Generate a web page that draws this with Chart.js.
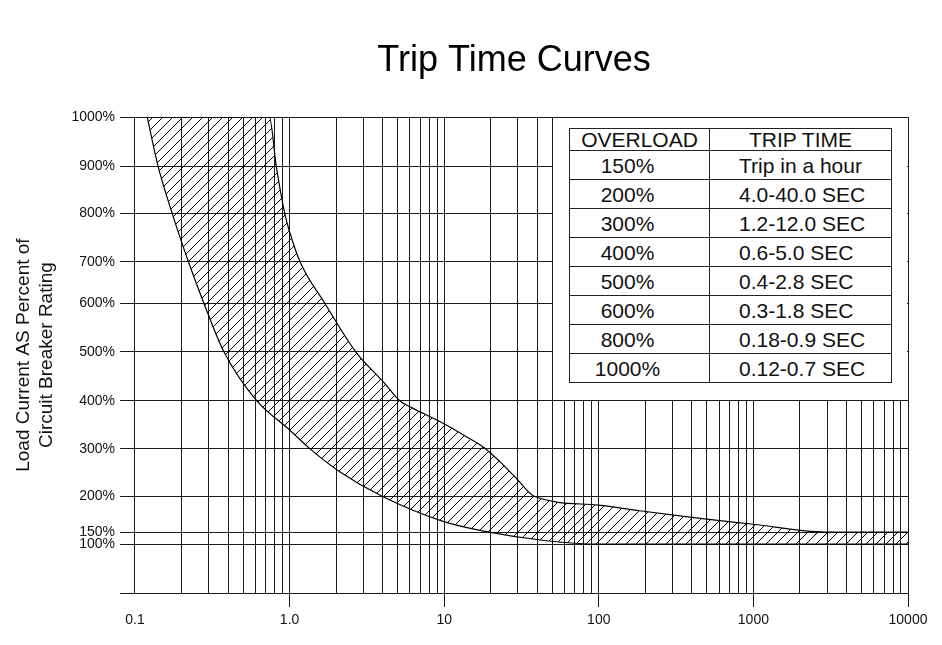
<!DOCTYPE html>
<html>
<head>
<meta charset="utf-8">
<title>Trip Time Curves</title>
<script src="https://cdn.jsdelivr.net/npm/chart.js@4.4.1/dist/chart.umd.min.js"></script>
<style>
    html, body { margin: 0; padding: 0; background: #fff; }
    #wrap { position: relative; width: 942px; height: 645px; font-family: "Liberation Sans", Arial, sans-serif; }
    #chart { position: absolute; left: 0; top: 0; }
    #tableBox { position: absolute; left: 553px; top: 118px; width: 354px; height: 282px; background: #fff; }
    #tripTable {
        position: absolute; left: 16px; top: 10px; width: 322px; height: 255px;
        border-collapse: collapse; table-layout: fixed; font-size: 21px; color: #111;
    }
    #tripTable th, #tripTable td { border: 1px solid #222; padding: 0; line-height: 1; font-weight: normal; white-space: nowrap; }
    #tripTable th { text-align: center; }
    #tripTable td.load { text-align: center; padding-right: 24px; }
    #tripTable td.time { text-align: left; padding-left: 29px; }
</style>
</head>
<body>
<div id="wrap">
    <canvas id="chart" width="942" height="645"></canvas>
    <div id="tableBox">
        <table id="tripTable">
            <colgroup><col style="width:140px"><col style="width:182px"></colgroup>
            <thead><tr><th>OVERLOAD</th><th>TRIP TIME</th></tr></thead>
            <tbody id="tripRows"></tbody>
        </table>
    </div>
</div>
<script>
// ---- data ----
const chartTitle = "Trip Time Curves";
const yAxisTitle = ["Load Current AS Percent of", "Circuit Breaker Rating"];

// lower (fastest) trip curve: time in seconds / load in %
const lowerTime = [0.12, 0.141, 0.174, 0.222, 0.279, 0.376, 0.612, 1.0, 1.35, 2.11, 4.0, 9.84, 18.3, 45.8, 100, 10000];
const lowerLoad = [1000, 900, 800, 700, 600, 500, 400, 339, 300, 252, 200, 165, 151, 114, 100, 100];

// upper (slowest) trip curve, top edge of the band runs along 1000%
const upperTime = [0.12, 0.74, 0.82, 0.93, 1.0, 1.17, 1.69, 2.68, 4.03, 5.16, 6.3, 9.84, 13.9, 18.3, 22.9, 29.3, 38.5, 99, 184, 387, 1000, 2900, 10000];
const upperLoad = [1000, 1000, 900, 800, 762, 700, 600, 500, 439, 400, 384, 353, 325, 301, 273, 238, 200, 188, 180, 171, 161, 150, 150];

const xTickValues = [0.1, 1, 10, 100, 1000, 10000];
const xTickLabels = ["0.1", "1.0", "10", "100", "1000", "10000"];

const yTickValues = [0, 100, 150, 200, 300, 400, 500, 600, 700, 800, 900, 1000];
const yTickLabels = ["", "100%", "150%", "200%", "300%", "400%", "500%", "600%", "700%", "800%", "900%", "1000%"];

const overloadLevels = ["150%", "200%", "300%", "400%", "500%", "600%", "800%", "1000%"];
const tripTimes = ["Trip in a hour", "4.0-40.0 SEC", "1.2-12.0 SEC", "0.6-5.0 SEC", "0.4-2.8 SEC", "0.3-1.8 SEC", "0.18-0.9 SEC", "0.12-0.7 SEC"];

// ---- table ----
const rowsEl = document.getElementById("tripRows");
overloadLevels.forEach((lvl, i) => {
    const tr = document.createElement("tr");
    tr.innerHTML = `<td class="load">${lvl}</td><td class="time">${tripTimes[i]}</td>`;
    rowsEl.appendChild(tr);
});

// ---- y axis: the printed chart spaces its gridlines unevenly (150% sits close to 100%) ----
const yAxisFractions = [0, 0.1028, 0.128, 0.2027, 0.3034, 0.4041, 0.5069, 0.6091, 0.6958, 0.798, 0.8972, 1];

function valueToFraction(v) {
    let i = 1;
    while (i < yTickValues.length - 1 && v > yTickValues[i]) i++;
    const v0 = yTickValues[i - 1], v1 = yTickValues[i];
    const f0 = yAxisFractions[i - 1], f1 = yAxisFractions[i];
    return f0 + (v - v0) / (v1 - v0) * (f1 - f0);
}

function fractionToValue(f) {
    let i = 1;
    while (i < yAxisFractions.length - 1 && f > yAxisFractions[i]) i++;
    const v0 = yTickValues[i - 1], v1 = yTickValues[i];
    const f0 = yAxisFractions[i - 1], f1 = yAxisFractions[i];
    return v0 + (f - f0) / (f1 - f0) * (v1 - v0);
}

const LinearBase = Chart.LinearScale || Chart.registry.getScale("linear");

class GridStopScale extends LinearBase {
    getPixelForValue(value) {
        if (value === null || value === undefined || isNaN(value)) return NaN;
        return this.getPixelForDecimal(valueToFraction(value));
    }
    getValueForPixel(pixel) {
        return fractionToValue(this.getDecimalForPixel(pixel));
    }
}
GridStopScale.id = "gridstop";
GridStopScale.defaults = {};
Chart.register(GridStopScale);

// ---- hatch fill ----
const canvas = document.getElementById("chart");
const ctx = canvas.getContext("2d");

function makeHatch() {
    const size = 10;
    const tile = document.createElement("canvas");
    tile.width = size;
    tile.height = size;
    const g = tile.getContext("2d");
    g.strokeStyle = "#000";
    g.lineWidth = 1;
    g.beginPath();
    g.moveTo(0, size); g.lineTo(size, 0);
    g.moveTo(-1, 1); g.lineTo(1, -1);
    g.moveTo(size - 1, size + 1); g.lineTo(size + 1, size - 1);
    g.stroke();
    return ctx.createPattern(tile, "repeat");
}

// x gridlines at 1..9 of every decade
const xGrid = [];
for (let d = 0; d < xTickValues.length - 1; d++) {
    for (let k = 1; k <= 9; k++) xGrid.push(k === 1 ? xTickValues[d] : xTickValues[d] * k);
}
xGrid.push(xTickValues[xTickValues.length - 1]);

const majorTicks = xTickValues.slice(1);

Chart.defaults.font.family = '"Liberation Sans", Arial, sans-serif';
Chart.defaults.color = "#111";

new Chart(ctx, {
    type: "line",
    data: {
        datasets: [
            {
                label: "Minimum",
                data: lowerTime.map((t, i) => ({ x: t, y: lowerLoad[i] })),
                borderColor: "#000",
                borderWidth: 1.2,
                pointRadius: 0,
                cubicInterpolationMode: "monotone",
                fill: false
            },
            {
                label: "Maximum",
                data: upperTime.map((t, i) => ({ x: t, y: upperLoad[i] })),
                borderColor: "#000",
                borderWidth: 1.2,
                pointRadius: 0,
                cubicInterpolationMode: "monotone",
                backgroundColor: makeHatch(),
                fill: "-1"
            }
        ]
    },
    options: {
        responsive: false,
        animation: false,
        events: [],
        layout: { padding: { left: 12, right: 34, top: 0, bottom: 0 } },
        plugins: {
            legend: { display: false },
            tooltip: { enabled: false },
            title: {
                display: true,
                text: chartTitle,
                fullSize: false,
                color: "#000",
                font: { size: 36, weight: "normal" },
                padding: { top: 39, bottom: 35 }
            }
        },
        scales: {
            x: {
                type: "logarithmic",
                min: 0.08,
                max: 10000,
                bounds: "data",
                border: { display: false },
                grid: {
                    color: "#1a1a1a",
                    lineWidth: 1,
                    tickLength: 14,
                    tickColor: (c) => (c.tick && majorTicks.includes(c.tick.value)) ? "#1a1a1a" : "rgba(0,0,0,0)"
                },
                ticks: {
                    autoSkip: false,
                    maxRotation: 0,
                    padding: 5,
                    font: { size: 14 },
                    callback: (value) => {
                        const i = xTickValues.indexOf(value);
                        return i >= 0 ? xTickLabels[i] : "";
                    }
                },
                afterBuildTicks: (scale) => {
                    scale.ticks = xGrid.map(v => ({ value: v }));
                },
                afterFit: (scale) => { scale.height = 52; }
            },
            y: {
                type: "gridstop",
                min: 0,
                max: 1000,
                bounds: "data",
                border: { display: false },
                grid: { color: "#1a1a1a", lineWidth: 1, drawTicks: false },
                ticks: {
                    autoSkip: false,
                    padding: 5,
                    font: { size: 14 },
                    callback: (value) => {
                        const i = yTickValues.indexOf(value);
                        return i >= 0 ? yTickLabels[i] : "";
                    }
                },
                afterBuildTicks: (scale) => {
                    scale.ticks = yTickValues.map(v => ({ value: v }));
                },
                title: {
                    display: true,
                    text: yAxisTitle,
                    color: "#111",
                    font: { size: 19, lineHeight: 1.23 },
                    padding: { top: 0, bottom: 0 }
                },
                afterFit: (scale) => { scale.width = 108; }
            }
        }
    }
});
</script>
</body>
</html>
